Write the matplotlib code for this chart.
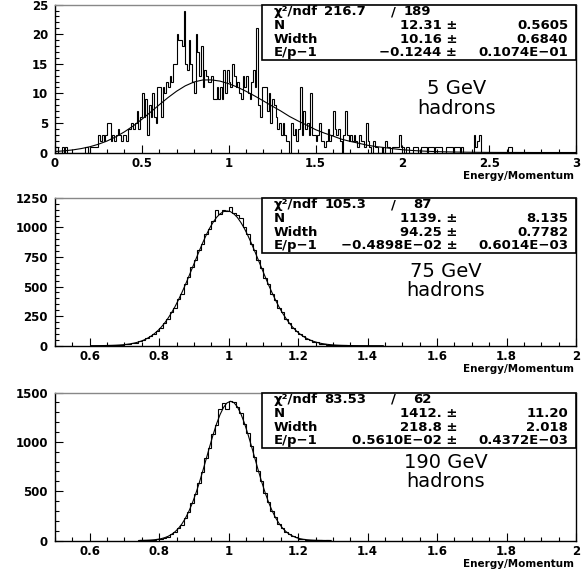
import matplotlib
matplotlib.use('Agg')
import matplotlib.pyplot as plt
import numpy as np
from matplotlib.patches import Rectangle
from matplotlib.ticker import MultipleLocator, FuncFormatter

plt.rcParams['font.family'] = ['DejaVu Sans']
plt.rcParams['font.weight'] = 'bold'

# ---- panel 1: 5 GeV, bins of 0.01 from 0 to 3
p1_start, p1_binw = 0.0, 0.01
p1_counts = [
    1, 1, 0, 0, 1, 0, 1, 0, 0, 0,
    0, 0, 0, 0, 0, 0, 0, 1, 1, 0,
    1, 1, 1, 1, 1, 3, 2, 3, 2, 3,
    5, 5, 2, 3, 2, 3, 4, 3, 2, 3,
    3, 2, 4, 4, 5, 4, 5, 7, 4, 6,
    10, 6, 9, 3, 8, 6, 10, 6, 5, 11,
    11, 6, 11, 10, 12, 11, 13, 12, 15, 15,
    20, 19, 19, 18, 24, 15, 14, 19, 15, 12,
    10, 20, 17, 13, 18, 11, 14, 13, 12, 12,
    13, 9, 9, 11, 9, 11, 9, 14, 10, 14,
    12, 11, 15, 13, 11, 12, 10, 9, 13, 11,
    13, 10, 9, 12, 14, 11, 21, 8, 6, 11,
    11, 11, 7, 10, 5, 9, 8, 6, 4, 5,
    3, 5, 3, 2, 2, 0, 5, 3, 4, 2,
    4, 11, 3, 7, 4, 5, 3, 10, 3, 3,
    2, 3, 5, 2, 2, 1, 2, 4, 2, 3,
    7, 4, 3, 4, 2, 0, 3, 7, 3, 2,
    3, 2, 3, 2, 1, 3, 2, 2, 1, 5,
    2, 1, 0, 2, 1, 1, 0, 0, 1, 0,
    2, 1, 1, 0, 1, 1, 1, 1, 3, 1,
    1, 0, 1, 1, 0, 0, 1, 1, 1, 0,
    0, 1, 1, 1, 0, 1, 1, 1, 0, 1,
    1, 1, 1, 0, 0, 1, 1, 1, 1, 0,
    1, 1, 1, 0, 1, 0, 0, 0, 0, 0,
    0, 3, 1, 2, 3, 0, 0, 0, 0, 0,
    0, 0, 0, 0, 0, 0, 0, 0, 0, 0,
    0, 1, 1, 0, 0, 0, 0, 0, 0, 0,
    0, 0, 0, 0, 0, 0, 0, 0, 0, 0,
    0, 0, 0, 0, 0, 0, 0, 0, 0, 0,
    0, 0, 0, 0, 0, 0, 0, 0, 0, 0,
]
# fit curve, sampled every 0.05 from 0 to 3
p1_curve_start, p1_curve_step = 0.0, 0.05
p1_curve = [
    0.17, 0.28, 0.43, 0.66, 0.97, 1.40, 1.95, 2.65, 3.50, 4.49,
    5.61, 6.82, 8.06, 9.27, 10.36, 11.27, 11.92, 12.26, 12.28, 12.07,
    11.64, 11.05, 10.35, 9.56, 8.72, 7.86, 7.02, 6.10, 5.33, 4.62,
    3.87, 3.29, 2.79, 2.25, 1.88, 1.56, 1.22, 1.00, 0.82, 0.63,
    0.47, 0.36, 0.27, 0.20, 0.15, 0.11, 0.08, 0.06, 0.04, 0.03,
    0.02, 0.015, 0.01, 0.01, 0.005, 0.0, 0.0, 0.0, 0.0, 0.0, 0.0,
]

# ---- panel 2: 75 GeV, bins of 0.01 from 0.60
p2_start, p2_binw = 0.60, 0.01
p2_counts = [
    0, 0, 0, 1, 0, 2, 3, 2, 5, 7,
    12, 14, 21, 25, 38, 45, 63, 80, 95, 128,
    150, 194, 226, 281, 322, 392, 440, 520, 578, 662,
    720, 805, 860, 940, 985, 1050, 1150, 1110, 1150, 1135,
    1170, 1120, 1105, 1075, 1000, 940, 860, 810, 720, 660,
    575, 520, 440, 390, 322, 282, 226, 193, 150, 128,
    96, 82, 58, 50, 34, 29, 18, 16, 10, 9,
    4, 5, 2, 3, 1, 1, 0, 1, 0, 0,
    0, 0, 0, 0, 0,
]
# fit curve at the bin centres
p2_curve = [
    0.25, 0.38, 0.58, 0.87, 1.3, 1.9, 2.7, 3.9, 5.6, 7.8,
    10.8, 14.8, 20.1, 26.9, 35.7, 46.8, 60.8, 78.0, 99, 124,
    154, 189, 230, 276, 327, 385, 447, 513, 583, 655,
    727, 799, 868, 933, 992, 1042, 1084, 1114, 1133, 1139,
    1133, 1114, 1084, 1042, 992, 933, 868, 799, 727, 655,
    583, 513, 447, 385, 327, 276, 230, 189, 154, 124,
    99, 78, 61, 47, 36, 27, 20, 15, 11, 8,
    5.6, 3.9, 2.7, 1.9, 1.3, 0.87, 0.58, 0.38, 0.25, 0.16,
    0.1, 0.06, 0.04, 0.02, 0.01,
]

# ---- panel 3: 190 GeV, bins of 0.01 from 0.74
p3_start, p3_binw = 0.74, 0.01
p3_counts = [
    1, 1, 3, 4, 6, 13,
    17, 30, 40, 63, 85, 124, 162, 228, 288, 380,
    468, 588, 690, 835, 940, 1080, 1170, 1330, 1395, 1330,
    1410, 1405, 1350, 1290, 1185, 1095, 955, 845, 705, 600,
    478, 392, 296, 235, 168, 130, 86, 66, 41, 31,
    17, 14, 6, 6, 2, 2, 1, 0, 1, 0,
]
p3_curve = [
    0.9, 1.6, 2.7, 4.5, 7.3, 11.7,
    18.2, 27.8, 41.5, 60.7, 86.8, 121.5, 166.4, 223, 293, 376,
    473, 581, 700, 824, 949, 1071, 1182, 1276, 1349, 1395,
    1412, 1399, 1356, 1286, 1194, 1084, 964, 839, 714, 595,
    485, 387, 302, 231, 173, 126, 90, 63, 44, 29,
    19, 12, 8, 5, 3, 1.7, 1.0, 0.6, 0.3, 0.2,
]

# fit statistics boxes
p1_chi2, p1_ndf = '216.7', '189'
p1_params = [('N', '12.31 ±', '0.5605'), ('Width', '10.16 ±', '0.6840'),
             ('E/p−1', '−0.1244 ±', '0.1074E−01')]
p2_chi2, p2_ndf = '105.3', '87'
p2_params = [('N', '1139. ±', '8.135'), ('Width', '94.25 ±', '0.7782'),
             ('E/p−1', '−0.4898E−02 ±', '0.6014E−03')]
p3_chi2, p3_ndf = '83.53', '62'
p3_params = [('N', '1412. ±', '11.20'), ('Width', '218.8 ±', '2.018'),
             ('E/p−1', '0.5610E−02 ±', '0.4372E−03')]

energies = ['5 GeV', '75 GeV', '190 GeV']


def edges_for(start, binw, n):
    return np.round(start + binw * np.arange(n + 1), 4)


panels = [
    dict(counts=p1_counts, edges=edges_for(p1_start, p1_binw, len(p1_counts)),
         cx=np.round(p1_curve_start + p1_curve_step * np.arange(len(p1_curve)), 4), cy=p1_curve,
         xlim=(0, 3), ylim=(0, 25), xmaj=0.5, xmin=0.1, ymaj=5, ymin=1,
         chi2=p1_chi2, ndf=p1_ndf, params=p1_params, label=energies[0],
         bottom=0.7329, lx=0.77, ly=(0.43, 0.30)),
    dict(counts=p2_counts, edges=edges_for(p2_start, p2_binw, len(p2_counts)),
         cx=np.round(p2_start + p2_binw * (np.arange(len(p2_curve)) + 0.5), 4), cy=p2_curve,
         xlim=(0.5, 2), ylim=(0, 1250), xmaj=0.2, xmin=0.05, ymaj=250, ymin=50,
         chi2=p2_chi2, ndf=p2_ndf, params=p2_params, label=energies[1],
         bottom=0.3946, lx=0.75, ly=(0.50, 0.37)),
    dict(counts=p3_counts, edges=edges_for(p3_start, p3_binw, len(p3_counts)),
         cx=np.round(p3_start + p3_binw * (np.arange(len(p3_curve)) + 0.5), 4), cy=p3_curve,
         xlim=(0.5, 2), ylim=(0, 1500), xmaj=0.2, xmin=0.05, ymaj=500, ymin=100,
         chi2=p3_chi2, ndf=p3_ndf, params=p3_params, label=energies[2],
         bottom=0.0534, lx=0.75, ly=(0.53, 0.40)),
]

fig = plt.figure(figsize=(5.87, 5.71), dpi=100)
fmt = FuncFormatter(lambda v, p: f'{v:g}')

for pn in panels:
    ax = fig.add_axes([0.0937, pn['bottom'], 0.8876, 0.2590])
    ax.stairs(pn['counts'], pn['edges'], color='black', lw=0.8)
    ax.plot(pn['cx'], pn['cy'], color='black', lw=0.8)
    ax.set_xlim(*pn['xlim'])
    ax.set_ylim(*pn['ylim'])

    ax.xaxis.set_major_locator(MultipleLocator(pn['xmaj']))
    ax.xaxis.set_minor_locator(MultipleLocator(pn['xmin']))
    ax.yaxis.set_major_locator(MultipleLocator(pn['ymaj']))
    ax.yaxis.set_minor_locator(MultipleLocator(pn['ymin']))
    ax.xaxis.set_major_formatter(fmt)
    ax.yaxis.set_major_formatter(fmt)
    ax.tick_params(which='both', direction='in', top=False, right=False, width=0.8)
    ax.tick_params(which='major', length=6, labelsize=8.5)
    ax.tick_params(which='minor', length=3)
    ax.tick_params(axis='x', pad=3)
    ax.tick_params(axis='y', pad=5)
    for s in ax.spines.values():
        s.set_linewidth(1.0)
    ax.spines['top'].set_color('#888888')

    ax.text(0.996, -0.16, 'Energy/Momentum', transform=ax.transAxes,
            ha='right', va='center', fontsize=7.5)

    # stats box
    bx, by = 0.397, 0.628
    ax.add_patch(Rectangle((bx, by), 1 - bx, 1 - by, transform=ax.transAxes,
                           facecolor='white', edgecolor='black', lw=1.2,
                           zorder=3, clip_on=False))
    rows = [('χ²/ndf', pn['chi2'], None)] + pn['params']
    rh = (1 - by) / 4
    for i, row in enumerate(rows):
        yy = 1 - (i + 0.5) * rh
        kw = dict(transform=ax.transAxes, va='center', fontsize=9.5, zorder=4)
        ax.text(0.419, yy, row[0], ha='left', **kw)
        if i == 0:
            ax.text(0.597, yy, pn['chi2'], ha='right', **kw)
            ax.text(0.649, yy, '/', ha='center', **kw)
            ax.text(0.722, yy, pn['ndf'], ha='right', **kw)
        else:
            ax.text(0.772, yy, row[1], ha='right', **kw)
            ax.text(0.985, yy, row[2], ha='right', **kw)

    ax.text(pn['lx'], pn['ly'][0], pn['label'], transform=ax.transAxes,
            ha='center', va='center', fontsize=14, fontweight='normal')
    ax.text(pn['lx'], pn['ly'][1], 'hadrons', transform=ax.transAxes,
            ha='center', va='center', fontsize=14, fontweight='normal')

fig.savefig('out.png', dpi=100)
